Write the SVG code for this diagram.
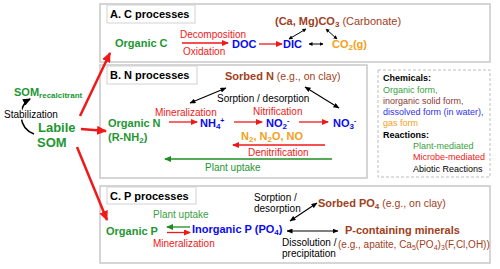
<svg xmlns="http://www.w3.org/2000/svg" width="500" height="269" viewBox="0 0 500 269">
<defs>
<style>
text{font-family:"Liberation Sans",Arial,sans-serif;}
.b{font-weight:bold;}
.t11{font-size:11px;}
.t10{font-size:10px;}
.lg{font-size:9px;}
.green{fill:#1E9632;}
.lgreen{fill:#3AA040;}
.blue{fill:#0A0AF0;}
.red{fill:#F01818;}
.orange{fill:#F5A01A;}
.brown{fill:#A0401C;}
.black{fill:#000;}
.panel{fill:#fff;stroke:#C8C8C8;stroke-width:1.5;}
.title{fill:#fff;stroke:#D2D2D2;stroke-width:1;}
.rl{stroke:#F01818;stroke-width:1.3;fill:none;marker-end:url(#aR);}
.gl{stroke:#1E8C1E;stroke-width:1.3;fill:none;marker-end:url(#aG);}
.kl{stroke:#000;stroke-width:1.1;fill:none;marker-end:url(#aK);marker-start:url(#aK);}
.ks{stroke:#000;stroke-width:1;fill:none;marker-end:url(#aKs);marker-start:url(#aKs);}
.big{stroke:#F01818;stroke-width:2.5;fill:none;marker-end:url(#aRB);}
</style>
<marker id="aR" markerUnits="userSpaceOnUse" markerWidth="7" markerHeight="6" refX="6" refY="3" orient="auto"><path d="M0,0 L7,3 L0,6 z" fill="#F01818"/></marker>
<marker id="aRB" markerUnits="userSpaceOnUse" markerWidth="10" markerHeight="9" refX="9" refY="4.5" orient="auto"><path d="M0,0 L10,4.5 L0,9 z" fill="#F01818"/></marker>
<marker id="aG" markerUnits="userSpaceOnUse" markerWidth="7" markerHeight="6" refX="6" refY="3" orient="auto"><path d="M0,0 L7,3 L0,6 z" fill="#1E8C1E"/></marker>
<marker id="aK" markerUnits="userSpaceOnUse" markerWidth="6" markerHeight="5" refX="5.5" refY="2.5" orient="auto-start-reverse"><path d="M0,0 L6,2.5 L0,5 z" fill="#000"/></marker>
<marker id="aKs" markerUnits="userSpaceOnUse" markerWidth="4" markerHeight="4" refX="3.5" refY="2" orient="auto-start-reverse"><path d="M0,0 L4,2 L0,4 z" fill="#000"/></marker>
<marker id="aKc" markerUnits="userSpaceOnUse" markerWidth="8" markerHeight="7" refX="7" refY="3.5" orient="auto"><path d="M0,0 L8,3.5 L0,7 z" fill="#000"/></marker>
</defs>
<rect width="500" height="269" fill="#fff"/>

<!-- panels -->
<g id="panelA"><rect class="panel" x="100" y="4" width="390" height="58"/><rect class="title" x="107" y="5" width="88" height="18"/><text class="b t11 black" x="110" y="18">A. C processes</text></g>
<g id="panelB"><rect class="panel" x="100" y="65" width="267" height="113"/><rect class="title" x="107" y="66" width="90" height="18"/><text class="b t11 black" x="110" y="79">B. N processes</text></g>
<g id="panelC"><rect class="panel" x="100" y="186" width="390" height="77"/><rect class="title" x="107" y="187" width="89" height="17"/><text class="b t11 black" x="110" y="200">C. P processes</text></g>

<g id="connectors">
<!-- from labile SOM -->
<line class="big" x1="80" y1="116" x2="110" y2="53"/>
<line class="big" x1="81" y1="129" x2="106" y2="131"/>
<line class="big" x1="77" y1="147" x2="107" y2="220"/>
<path d="M34,134 C18,128 17,106 30,99" stroke="#000" stroke-width="1.5" fill="none" marker-end="url(#aKc)"/>
<!-- A -->
<line class="rl" x1="182" y1="43" x2="228" y2="43"/>
<line class="rl" x1="259" y1="44" x2="282" y2="44"/>
<line class="ks" x1="309" y1="44" x2="323" y2="44"/>
<line class="ks" x1="306" y1="29" x2="289" y2="39"/>
<line class="ks" x1="326" y1="29" x2="337" y2="39"/>
<!-- B -->
<line class="kl" x1="190" y1="103" x2="226" y2="88"/>
<line class="kl" x1="305" y1="87" x2="339" y2="108"/>
<line class="rl" x1="169" y1="122" x2="197" y2="122"/>
<line class="rl" x1="234" y1="122" x2="262" y2="122"/>
<line class="rl" x1="299" y1="122" x2="328" y2="122"/>
<line class="rl" x1="325" y1="145" x2="233" y2="145"/>
<line class="gl" x1="332" y1="159" x2="165" y2="159"/>
<!-- C -->
<line class="gl" x1="190" y1="227" x2="167" y2="227"/>
<line class="rl" x1="167" y1="232.5" x2="190" y2="232.5"/>
<line class="kl" x1="290" y1="221" x2="317" y2="203"/>
<line class="kl" x1="287" y1="231" x2="338" y2="231"/>
<!-- legend -->
<line class="gl" x1="383" y1="146" x2="403" y2="146"/>
<line class="rl" x1="383" y1="157" x2="403" y2="157"/>
<line x1="384" y1="169" x2="403" y2="169" stroke="#000" stroke-width="1.5"/>
</g>

<!-- left SOM nodes -->
<g id="somRec"><text class="b green" x="14" y="96" font-size="11">SOM<tspan font-size="8" dy="2">recalcitrant</tspan></text></g>
<g id="stabilization"><text class="t10 black" x="4" y="117.5" stroke="#fff" stroke-width="3" paint-order="stroke">Stabilization</text></g>
<g id="labileSOM"><text class="b green" x="38" y="132" font-size="13">Labile</text><text class="b green" x="37" y="147" font-size="13">SOM</text></g>

<!-- A nodes -->
<g id="organicC"><text class="b t11 green" x="115" y="47">Organic C</text></g>
<g id="lblDecomp"><text class="t10 red" x="180" y="37.5">Decomposition</text><text class="t10 red" x="183" y="54.5">Oxidation</text></g>
<g id="DOC"><text class="b t11 blue" x="232" y="48">DOC</text></g>
<g id="DIC"><text class="b t11 blue" x="283" y="48">DIC</text></g>
<g id="CO2"><text class="b t11 orange" x="332" y="48">CO<tspan font-size="8" dy="2">2</tspan><tspan dy="-2">(g)</tspan></text></g>
<g id="carbonate"><text class="t11 brown" x="275" y="25"><tspan class="b">(Ca, Mg)CO</tspan><tspan class="b" font-size="8" dy="2">3</tspan><tspan dy="-2"> (Carbonate)</tspan></text></g>

<!-- B nodes -->
<g id="sorbedN"><text class="t11 brown" x="225" y="80"><tspan class="b">Sorbed N</tspan><tspan font-size="10.5"> (e.g., on clay)</tspan></text></g>
<g id="lblSorpN"><text class="t10 black" x="217" y="101.5">Sorption / desorption</text></g>
<g id="lblMinN"><text class="t10 red" x="155" y="115.5">Mineralization</text></g>
<g id="lblNit"><text class="t10 red" x="253" y="114.5">Nitrification</text></g>
<g id="organicN"><text class="b t11 green" x="108" y="127">Organic N</text><text class="b t11 green" x="108" y="141">(R-NH<tspan font-size="8" dy="2">2</tspan><tspan dy="-2">)</tspan></text></g>
<g id="NH4"><text class="b t11 blue" x="200" y="127">NH<tspan font-size="8" dy="2">4</tspan><tspan font-size="7" dy="-6">+</tspan></text></g>
<g id="NO2"><text class="b t11 blue" x="266" y="127">NO<tspan font-size="8" dy="2">2</tspan><tspan font-size="7" dy="-6">-</tspan></text></g>
<g id="NO3"><text class="b t11 blue" x="333" y="127">NO<tspan font-size="8" dy="2">3</tspan><tspan font-size="7" dy="-6">-</tspan></text></g>
<g id="gasN"><text class="b t11 orange" x="241" y="140">N<tspan font-size="8" dy="2">2</tspan><tspan dy="-2">, N</tspan><tspan font-size="8" dy="2">2</tspan><tspan dy="-2">O, NO</tspan></text></g>
<g id="lblDenit"><text class="t10 red" x="248" y="155.5">Denitrification</text></g>
<g id="lblUptakeN"><text class="t10 green" x="205" y="170.5">Plant uptake</text></g>

<!-- legend -->
<g id="legend">
<rect x="378" y="70" width="112" height="107" fill="#fff" stroke="#BDBDBD" stroke-width="1" stroke-dasharray="3,2"/>
<text class="lg b black" x="383" y="81">Chemicals:</text>
<text class="lg lgreen" x="383" y="93">Organic form,</text>
<text class="lg" fill="#8B3A3A" x="383" y="104">inorganic solid form,</text>
<text class="lg" fill="#3030F0" x="383" y="115">dissolved form (in water),</text>
<text class="lg orange" x="383" y="125.5">gas form</text>
<text class="lg b black" x="383" y="138">Reactions:</text>
<text class="lg lgreen" x="413" y="149">Plant-mediated</text>
<text class="lg red" x="413" y="160">Microbe-mediated</text>
<text class="lg black" x="413" y="172">Abiotic Reactions</text>
</g>

<!-- C nodes -->
<g id="lblUptakeP"><text class="t10 lgreen" x="153" y="217.5">Plant uptake</text></g>
<g id="organicP"><text class="b t11 green" x="106" y="235">Organic P</text></g>
<g id="lblMinP"><text class="t10 red" x="153" y="246.5">Mineralization</text></g>
<g id="inorganicP"><text class="b t11 blue" x="192" y="233">Inorganic P (PO<tspan font-size="8" dy="2">4</tspan><tspan dy="-2">)</tspan></text></g>
<g id="lblSorpP"><text class="t10 black" x="254" y="200.5">Sorption /</text><text class="t10 black" x="254" y="211.5">desorption</text></g>
<g id="sorbedP"><text class="t11 brown" x="318" y="207"><tspan class="b">Sorbed PO</tspan><tspan class="b" font-size="8" dy="2">4</tspan><tspan font-size="10.5" dy="-2"> (e.g., on clay)</tspan></text></g>
<g id="minerals"><text class="b t11 brown" x="345" y="234">P-containing minerals</text><text class="t10 brown" x="338" y="247.5">(e.g., apatite, Ca<tspan font-size="7" dy="2">5</tspan><tspan dy="-2">(PO</tspan><tspan font-size="7" dy="2">4</tspan><tspan dy="-2">)</tspan><tspan font-size="7" dy="2">3</tspan><tspan dy="-2">(F,Cl,OH))</tspan></text></g>
<g id="lblDiss"><text class="t10 black" x="282" y="245.5">Dissolution /</text><text class="t10 black" x="282" y="256.5">precipitation</text></g>
</svg>
